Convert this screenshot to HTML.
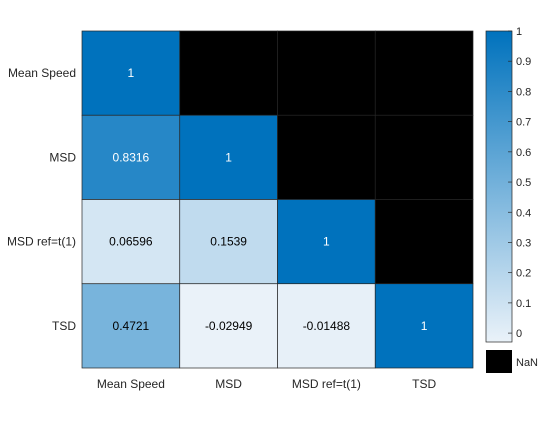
<!DOCTYPE html>
<html><head><meta charset="utf-8"><style>
body{margin:0;background:#fff;font-family:"Liberation Sans",sans-serif}
svg text{font-family:"Liberation Sans",sans-serif}
</style></head><body>
<svg id="chart" width="560" height="420">
<defs><linearGradient id="cbg" x1="0" y1="1" x2="0" y2="0">
<stop offset="0" stop-color="rgb(234,242,249)"/><stop offset="1" stop-color="rgb(0,114,189)"/></linearGradient></defs>
<g id="cells"></g><g id="labels"></g>
</svg>
<script>
const categories=["Mean Speed","MSD","MSD ref=t(1)","TSD"];
const row0=[1,null,null,null];
const row1=[0.8316,1,null,null];
const row2=[0.06596,0.1539,1,null];
const row3=[0.4721,-0.02949,-0.01488,1];
const cbTicks=[0,0.1,0.2,0.3,0.4,0.5,0.6,0.7,0.8,0.9,1];
const rows=[row0,row1,row2,row3];
const ns="http://www.w3.org/2000/svg";
const svg=document.getElementById('chart');
const X0=82,X1=473,Y0=31,Y1=368;
const cw=(X1-X0)/categories.length, ch=(Y1-Y0)/categories.length;
const allv=rows.flat().filter(v=>v!==null);
const vmin=Math.min(...allv), vmax=Math.max(...allv);
function color(v){const t=(v-vmin)/(vmax-vmin);
 const a=[234,242,249],b=[0,114,189];
 return `rgb(${a.map((c,i)=>Math.round(c+(b[i]-c)*t)).join(',')})`;}
function fmt(v){return String(+v.toPrecision(4));}
function mk(tag,attrs,parent){const e=document.createElementNS(ns,tag);for(const k in attrs)e.setAttribute(k,attrs[k]);(parent||svg).appendChild(e);return e;}
const cells=document.getElementById('cells');
rows.forEach((r,i)=>r.forEach((v,j)=>{
 const x=X0+j*cw,y=Y0+i*ch;
 const rc=mk('rect',{x:x,y:y,width:cw,height:ch,fill:v===null?'#000':color(v),stroke:'#262626','stroke-width':0.7},cells);
 
 
 if(v!==null){const t=mk('text',{x:x+cw/2,y:y+ch/2+4,'text-anchor':'middle','font-size':12,fill:(v-vmin)/(vmax-vmin)>0.6?'#fff':'#000'},cells);
  t.textContent=fmt(v);
  
  }
}));
categories.forEach((c,i)=>{
 const t=mk('text',{x:76,y:Y0+i*ch+ch/2+4,'text-anchor':'end','font-size':12,fill:'#262626'});
 t.textContent=c;
 
 
 const t2=mk('text',{x:X0+i*cw+cw/2,y:388,'text-anchor':'middle','font-size':12,fill:'#262626'});
 t2.textContent=c;
 
 
});
// colorbar
const CX=486,CW=26,CB0=342,CB1=31;
const cbY=v=>CB0-(v-vmin)/(vmax-vmin)*(CB0-CB1);
const cb=mk('rect',{x:CX,y:CB1,width:CW,height:CB0-CB1,fill:'url(#cbg)',stroke:'#262626','stroke-width':0.7});


cbTicks.forEach(v=>{const y=cbY(v);
 mk('line',{x1:CX+CW-4,x2:CX+CW,y1:y,y2:y,stroke:'#262626','stroke-width':0.7});
 const t=mk('text',{x:CX+CW+4,y:y+4,'font-size':11,fill:'#262626'});
 t.textContent=String(v);
 
 });
const nb=mk('rect',{x:CX,y:350,width:CW,height:23,fill:'#000'});


const nt=mk('text',{x:CX+CW+4,y:366,'font-size':11,fill:'#262626'});
nt.textContent='NaN';


</script>
</body></html>
